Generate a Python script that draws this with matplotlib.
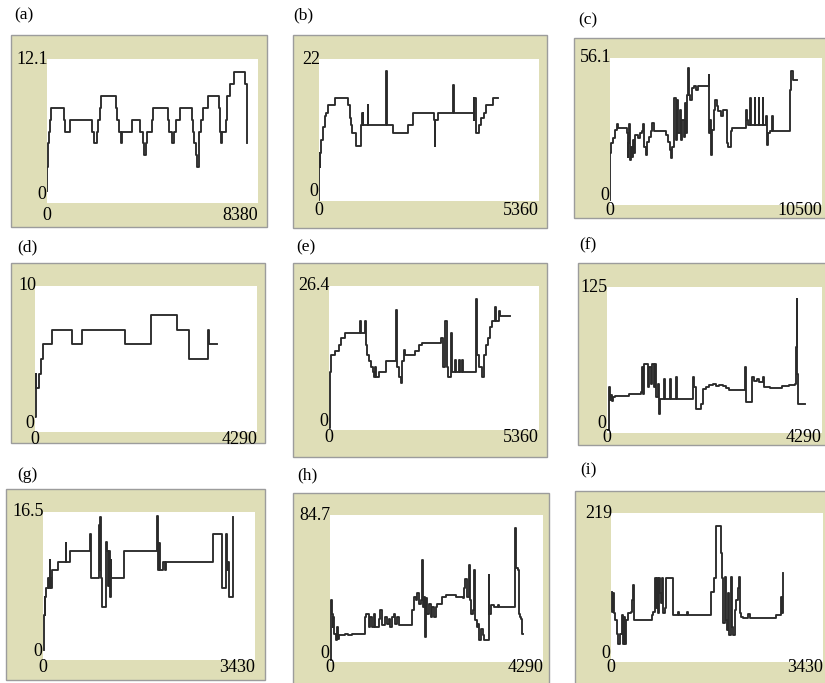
import matplotlib.pyplot as plt
from matplotlib.patches import Rectangle

plt.rcParams['font.family'] = ['Liberation Serif', 'DejaVu Serif']

# ---- data (step traces) ----
a_x = [0, 13, 40, 79, 119, 172, 660, 700, 898, 1795, 1848, 1980, 2020, 2086, 2152, 2746, 2798, 2878, 2930, 2983,
       3366, 3696, 3802, 3854, 3934, 3986, 4158, 4211, 4818, 4858, 4963, 5029, 5108, 5280, 5742, 5782, 5834, 5914,
       5966, 6032, 6125, 6204, 6376, 6838, 6877, 6904, 6970, 7102, 7168, 7260, 7445, 7880, 7933]
a_y = [1, 3, 5, 6, 7, 8, 7, 6, 7, 6, 5, 6, 7, 8, 9, 8, 7, 6, 5, 6, 7, 6, 5, 4, 5, 6, 7, 8, 7, 6, 5, 6, 7, 8, 7, 6, 5,
       4, 3, 6, 7, 8, 9, 8, 6, 5, 6, 7, 9, 10, 11, 10, 5]

b_x = [0, 8, 16, 24, 32, 57, 97, 138, 179, 219, 382, 706, 747, 788, 812, 893, 1031, 1039, 1064, 1072, 1080, 1194,
       1202, 1640, 1656, 1803, 2168, 2290, 2793, 2818, 2834, 2899, 3264, 3280, 3768, 3776, 3784, 3816, 3898, 3954,
       4011, 4076, 4239, 4360]
b_y = [0.2, 5.3, 7.4, 5.3, 7.4, 9.5, 11.5, 13.1, 13.6, 14.8, 15.9, 14.8, 12.8, 11.8, 10.6, 8.5, 11.8, 13.6, 11.8,
       13.6, 11.8, 14.8, 11.8, 20.1, 11.8, 10.6, 11.8, 13.6, 12.6, 8.5, 12.6, 13.6, 17.9, 13.6, 15.9, 12.6, 15.9,
       10.6, 11.8, 12.8, 13.6, 14.8, 15.9, 15.9]

c_x = [0, 17, 50, 165, 248, 331, 413, 827, 877, 910, 943, 976, 1025, 1075, 1125, 1174, 1240, 1373, 1489, 1604,
       1654, 1687, 1770, 1836, 1935, 2034, 2100, 2183, 2762, 2861, 2961, 3027, 3093, 3159, 3192, 3258, 3308, 3391,
       3457, 3523, 3589, 3655, 3722, 3788, 3837, 3887, 3920, 3986, 4052, 4152, 4284, 4350, 4879, 4912, 4962, 5011,
       5061, 5127, 5210, 5293, 5359, 5491, 5574, 5772, 5838, 5971, 6037, 6732, 6765, 6831, 6930, 6963, 7162, 7195,
       7360, 7393, 7559, 7592, 7724, 7790, 7840, 7939, 8022, 8072, 8932, 8965, 9047, 9262]
c_y = [1.9, 19.8, 23.6, 25.5, 28.7, 31.0, 29.3, 27.4, 18.5, 23.6, 31.0, 17.2, 22.3, 18.5, 24.9, 19.8, 26.8, 25.5,
       27.4, 28.1, 31.0, 22.3, 19.1, 24.2, 26.1, 28.1, 31.2, 28.1, 26.8, 24.2, 21.0, 17.9, 22.3, 26.1, 40.8, 24.9,
       40.2, 27.4, 36.3, 24.9, 32.5, 26.1, 38.9, 27.4, 42.1, 52.3, 42.1, 40.2, 44.6, 45.5, 44.0, 45.5, 49.7, 27.4,
       32.5, 19.1, 28.7, 36.3, 40.2, 37.6, 35.7, 33.8, 36.3, 23.6, 22.3, 28.1, 29.3, 36.3, 32.5, 30.6, 40.8, 30.6,
       40.8, 30.6, 40.8, 30.6, 40.8, 30.6, 33.8, 22.9, 27.4, 28.1, 33.8, 28.1, 44.0, 51.0, 47.8, 47.8]

d_x = [0, 13, 20, 77, 110, 161, 323, 710, 903, 1742, 2238, 2741, 2967, 3335, 3354, 3515]
d_y = [1, 4, 3, 4, 5, 6, 7, 6, 7, 6, 8, 7, 5, 7, 6, 6]

e_x = [0, 17, 60, 145, 255, 315, 400, 783, 817, 911, 936, 970, 1021, 1081, 1123, 1149, 1183, 1208, 1268, 1447,
       1719, 1745, 1787, 1830, 1872, 1906, 1932, 2187, 2298, 2383, 2868, 2910, 2970, 3004, 3038, 3115, 3140, 3217,
       3243, 3310, 3336, 3404, 3430, 3744, 3778, 3830, 3898, 3949, 4000, 4059, 4119, 4170, 4229, 4264, 4340, 4374,
       4612]
e_y = [0.3, 10.7, 13.7, 14.5, 15.6, 16.8, 17.8, 20.0, 17.8, 20.0, 15.6, 13.7, 12.7, 11.6, 10.7, 9.8, 11.6, 9.8,
       10.7, 12.7, 22.0, 11.6, 9.8, 8.6, 12.7, 14.7, 13.7, 14.5, 15.6, 16.0, 16.8, 11.6, 20.0, 11.6, 9.8, 17.7, 10.7,
       12.8, 10.7, 12.8, 10.7, 12.8, 10.7, 24.1, 13.7, 11.6, 9.8, 13.7, 15.6, 16.8, 18.9, 20.0, 22.6, 20.0, 21.9,
       20.9, 20.9]

f_x = [20, 33, 53, 73, 100, 126, 166, 432, 685, 698, 718, 738, 798, 818, 845, 871, 898, 931, 964, 984, 1011, 1031,
       1051, 1144, 1157, 1257, 1270, 1377, 1390, 1709, 1736, 1782, 1882, 1915, 1975, 2042, 2108, 2175, 2241, 2308,
       2374, 2427, 2746, 2766, 2893, 2933, 2986, 3039, 3106, 3132, 3259, 3491, 3624, 3757, 3771, 3784, 3797, 3817,
       3943]
f_y = [2.3, 39.4, 28.0, 32.3, 27.4, 30.8, 31.7, 33.7, 35.1, 56.5, 33.7, 59.4, 59.4, 39.4, 56.5, 42.2, 59.4, 39.4,
       59.4, 30.8, 42.2, 16.6, 29.4, 46.5, 29.4, 46.5, 29.4, 47.9, 29.4, 47.9, 39.4, 20.8, 25.1, 38.0, 39.4, 40.8,
       41.7, 40.0, 41.4, 40.0, 38.8, 37.1, 56.5, 26.5, 47.9, 44.5, 46.5, 43.7, 47.9, 39.4, 38.5, 40.0, 40.8, 41.7,
       73.6, 115.0, 50.8, 25.1, 25.1]

g_x = [11, 16, 27, 32, 38, 43, 81, 92, 108, 113, 124, 140, 151, 243, 367, 378, 443, 767, 783, 907, 918, 929, 945,
       961, 1026, 1042, 1058, 1069, 1080, 1096, 1107, 1307, 1847, 1858, 1868, 1879, 1890, 1944, 1966, 1982, 2754,
       2889, 2959, 2975, 2986, 3002, 3078]
g_y = [1.1, 5.0, 7.0, 5.0, 7.0, 8.0, 9.1, 8.0, 11.1, 9.1, 8.0, 9.1, 10.0, 10.9, 13.0, 10.9, 12.1, 14.1, 9.1, 15.0,
       10.0, 15.9, 9.1, 5.9, 13.2, 12.2, 8.2, 12.2, 7.0, 11.1, 9.1, 12.1, 16.1, 13.2, 10.0, 13.0, 10.0, 10.9, 10.0,
       10.9, 14.1, 8.0, 14.1, 10.0, 10.9, 7.0, 15.9]

h_x = [14, 20, 34, 54, 68, 88, 115, 135, 155, 182, 304, 372, 453, 642, 696, 723, 777, 811, 845, 878, 912, 980,
       1013, 1047, 1101, 1149, 1182, 1216, 1250, 1284, 1317, 1351, 1398, 1642, 1689, 1723, 1757, 1790, 1824, 1858,
       1871, 1892, 1912, 1925, 1959, 1993, 2027, 2061, 2094, 2128, 2162, 2263, 2331, 2533, 2669, 2702, 2723, 2750,
       2790, 2817, 2837, 2871, 2905, 2925, 2952, 2979, 3006, 3040, 3074, 3108, 3182, 3196, 3209, 3243, 3310, 3378,
       3412, 3716, 3736, 3750, 3783, 3803, 3830, 3851, 3871, 3885]
h_y = [1.0, 35.6, 27.9, 20.2, 26.0, 16.4, 12.5, 20.2, 13.5, 15.4, 16.4, 15.4, 16.4, 16.0, 26.0, 27.9, 20.2, 26.0,
       20.2, 27.9, 20.2, 25.0, 29.8, 21.2, 26.0, 22.1, 25.0, 20.2, 26.0, 27.9, 22.1, 26.0, 21.2, 29.8, 37.5, 35.6,
       39.5, 33.7, 35.6, 58.7, 31.8, 37.5, 14.4, 36.6, 27.9, 33.7, 26.0, 31.8, 26.0, 31.8, 33.7, 37.5, 38.5, 37.5,
       36.6, 42.4, 48.1, 37.5, 55.8, 35.6, 27.9, 29.8, 52.9, 24.1, 20.2, 22.1, 12.5, 19.2, 15.4, 12.5, 12.5, 50.0,
       27.9, 32.7, 31.8, 32.7, 31.8, 52.0, 77.0, 53.9, 52.9, 27.9, 26.0, 25.0, 16.4, 16.4]

i_x = [11, 22, 32, 43, 65, 92, 118, 145, 172, 188, 210, 226, 242, 269, 323, 345, 361, 372, 657, 684, 711, 727, 743,
       759, 775, 792, 808, 819, 845, 872, 889, 1007, 1088, 1104, 1222, 1239, 1626, 1669, 1696, 1772, 1788, 1804,
       1820, 1842, 1858, 1879, 1896, 1917, 1939, 1955, 1976, 2003, 2030, 2057, 2073, 2089, 2111, 2138, 2219, 2246,
       2676, 2757, 2768, 2784]
i_y = [103.3, 73.8, 100.9, 71.4, 61.5, 41.8, 27.1, 41.8, 68.9, 27.1, 66.4, 27.1, 61.5, 71.4, 73.8, 91.0, 113.2,
       61.5, 68.9, 73.8, 123.0, 78.7, 123.0, 71.4, 123.0, 100.9, 86.1, 123.0, 71.4, 78.7, 123.0, 68.9, 73.8, 68.9,
       73.8, 68.9, 103.3, 123.0, 199.3, 159.9, 123.0, 91.0, 56.6, 125.5, 61.5, 46.7, 100.9, 39.4, 125.5, 51.7, 39.4,
       76.3, 91.0, 108.3, 125.5, 71.4, 66.4, 64.0, 70.4, 64.0, 68.9, 96.0, 71.4, 130.4]

panel_names = ['(a)', '(b)', '(c)', '(d)', '(e)', '(f)', '(g)', '(h)', '(i)']
x_max = [8380, 5360, 10500, 4290, 5360, 4290, 3430, 4290, 3430]
y_max = [12.1, 22, 56.1, 10, 26.4, 125, 16.5, 84.7, 219]
y_max_labels = ['12.1', '22', '56.1', '10', '26.4', '125', '16.5', '84.7', '219']
series_x = [a_x, b_x, c_x, d_x, e_x, f_x, g_x, h_x, i_x]
series_y = [a_y, b_y, c_y, d_y, e_y, f_y, g_y, h_y, i_y]

# layout in pixels: outer box, inner plot area, panel label, x-label row
W, H = 825, 683
layout = [
    # (ol, ot, or, ob), (il, it, ir, ib), (lx, ly), xlab_y
    ((11, 35, 267, 227), (47, 59, 258, 203), (24, 15), 215),
    ((293, 35, 547, 228), (319, 59, 539, 201), (303, 15), 210),
    ((574, 38, 830, 218), (610, 58, 822, 205), (588, 20), 210),
    ((11, 263, 265, 443), (35, 286, 257, 432), (27, 247), 440),
    ((293, 263, 547, 457), (329, 286, 539, 430), (306, 247), 438),
    ((578, 263, 830, 445), (607, 287, 822, 433), (588, 245), 438),
    ((6, 489, 265, 680), (43, 512, 255, 660), (27, 475), 667),
    ((293, 493, 549, 690), (330, 515, 543, 662), (307, 475), 667),
    ((575, 491, 830, 690), (611, 513, 823, 662), (588, 470), 668),
]

BEIGE = '#DFDEB7'
LINE = '#2a2a2a'
FS = 13


def fx(px):
    return px / W


def fy(py):
    return 1 - py / H


fig = plt.figure(figsize=(8.25, 6.83), dpi=100)
fig.patch.set_facecolor('white')

for k in range(9):
    (ol, ot, orr, ob), (il, it, ir, ib), (lx, ly), xl_y = layout[k]

    # beige plot widget background (drawn under the axes)
    fig.patches.append(Rectangle((fx(ol), fy(ob)), (orr - ol) / W, (ob - ot) / H,
                                 transform=fig.transFigure, facecolor=BEIGE,
                                 edgecolor='#9c9c9c', linewidth=1.0, zorder=-5))

    ax = fig.add_axes([fx(il), fy(ib), (ir - il) / W, (ib - it) / H])
    ax.set_facecolor('white')
    ax.set_xticks([])
    ax.set_yticks([])
    for s in ax.spines.values():
        s.set_visible(False)

    ax.step(series_x[k], series_y[k], where='post', color=LINE, linewidth=1.35)
    ax.set_xlim(0, x_max[k])
    ax.set_ylim(0, y_max[k])

    # panel label and axis range labels
    fig.text(fx(lx), fy(ly), panel_names[k], ha='center', va='center', fontsize=12.5)
    fig.text(fx(il + 1), fy(it), y_max_labels[k], ha='right', va='center', fontsize=FS)
    fig.text(fx(il - 1), fy(ib - 9), '0', ha='right', va='center', fontsize=FS)
    fig.text(fx(il), fy(xl_y), '0', ha='center', va='center', fontsize=FS)
    fig.text(fx(ir), fy(xl_y), str(x_max[k]), ha='right', va='center', fontsize=FS)

fig.savefig('out.png', dpi=100)
